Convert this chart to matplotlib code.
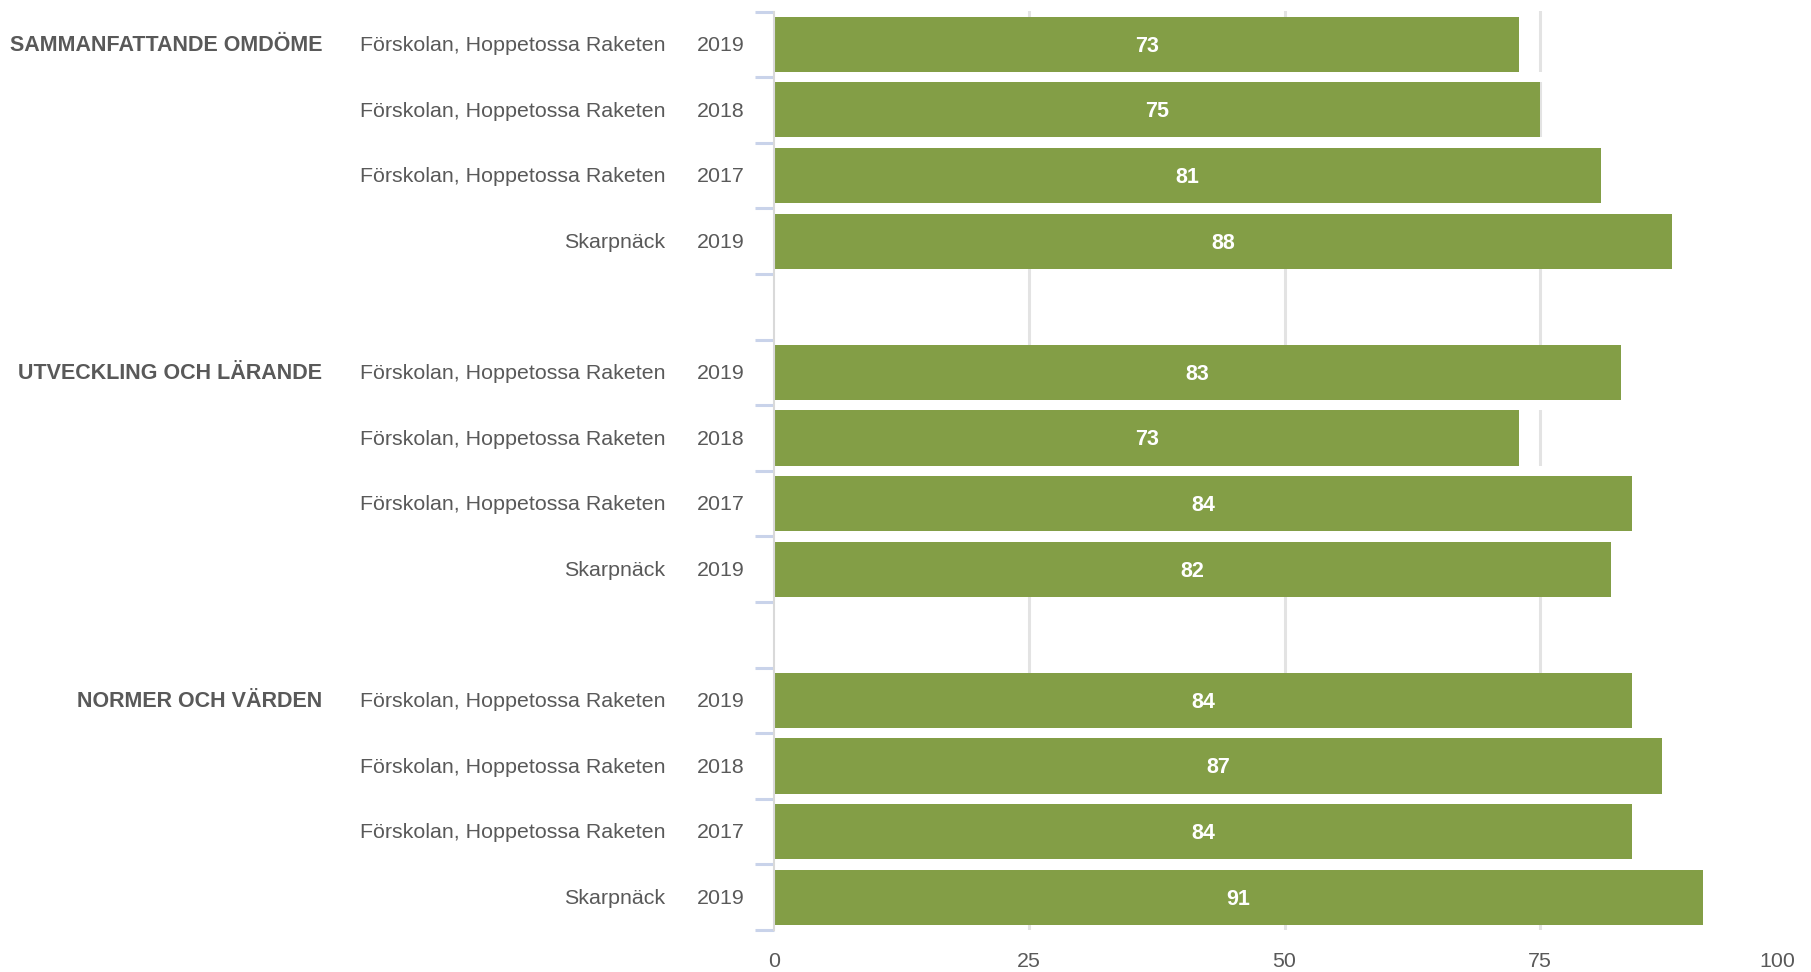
import matplotlib.pyplot as plt
import matplotlib.transforms as mtransforms

plt.rcParams['font.family'] = ['Liberation Sans', 'DejaVu Sans']

# data
groups = ['SAMMANFATTANDE OMDÖME', 'UTVECKLING OCH LÄRANDE', 'NORMER OCH VÄRDEN']
units = ['Förskolan, Hoppetossa Raketen', 'Förskolan, Hoppetossa Raketen',
         'Förskolan, Hoppetossa Raketen', 'Skarpnäck']
years = ['2019', '2018', '2017', '2019']
values = [
    [73, 75, 81, 88],
    [83, 73, 84, 82],
    [84, 87, 84, 91],
]
xticks = [0, 25, 50, 75, 100]

bar_color = '#839E46'
text_color = '#595959'

fig = plt.figure(figsize=(18.11, 9.72), dpi=100)
ax = fig.add_axes([774 / 1811, 1 - 930 / 972, (1795 - 774) / 1811, (930 - 11.5) / 972])

n_rows = len(units)
step = n_rows + 1  # one empty slot between groups
label_tr = mtransforms.blended_transform_factory(fig.transFigure, ax.transData)

bounds = []
for g, (grp, vals) in enumerate(zip(groups, values)):
    start = g * step
    ys = [start + i for i in range(n_rows)]
    ax.barh(ys, vals, height=0.84, color=bar_color, zorder=3)
    for y, v in zip(ys, vals):
        ax.text(v / 2, y + 0.03, str(v), ha='center', va='center', color='white',
                fontsize=15.5, fontweight='bold', zorder=4)
    # white gaps between bars hide the gridlines
    for i in range(n_rows - 1):
        ax.axhspan(start + i + 0.42, start + i + 0.58, color='white', zorder=1, lw=0)
    for y, u, yr in zip(ys, units, years):
        ax.text(665 / 1811, y + 0.02, u, transform=label_tr, ha='right', va='center',
                fontsize=15.4, color=text_color)
        ax.text(745 / 1811, y + 0.02, yr, transform=label_tr, ha='right', va='center',
                fontsize=15.4, color=text_color)
    ax.text(322 / 1811, start + 0.02, grp, transform=label_tr, ha='right', va='center',
            fontsize=15.5, fontweight='bold', color=text_color)
    bounds += [start - 0.5 + i for i in range(n_rows + 1)]

ax.set_xlim(0, 100)
ax.set_ylim(step * len(groups) - 1 - 0.5, -0.5)
ax.set_xticks(xticks)
ax.set_xticklabels([str(t) for t in xticks], fontsize=15.4, color=text_color)
ax.get_xticklabels()[-1].set_horizontalalignment('right')
ax.set_yticks(bounds)
ax.set_yticklabels([''] * len(bounds))

ax.tick_params(axis='x', length=0, pad=16)
ax.tick_params(axis='y', color='#C9D3EA', length=14, width=2.2)

for x in xticks[1:-1]:
    ax.axvline(x, color='#E3E3E3', lw=2.2, zorder=0)

for s in ['top', 'right', 'bottom']:
    ax.spines[s].set_visible(False)
ax.spines['left'].set_color('#D9D9D9')
ax.spines['left'].set_linewidth(1.5)
ax.spines['left'].set_zorder(5)

plt.savefig('out.png', dpi=100)
